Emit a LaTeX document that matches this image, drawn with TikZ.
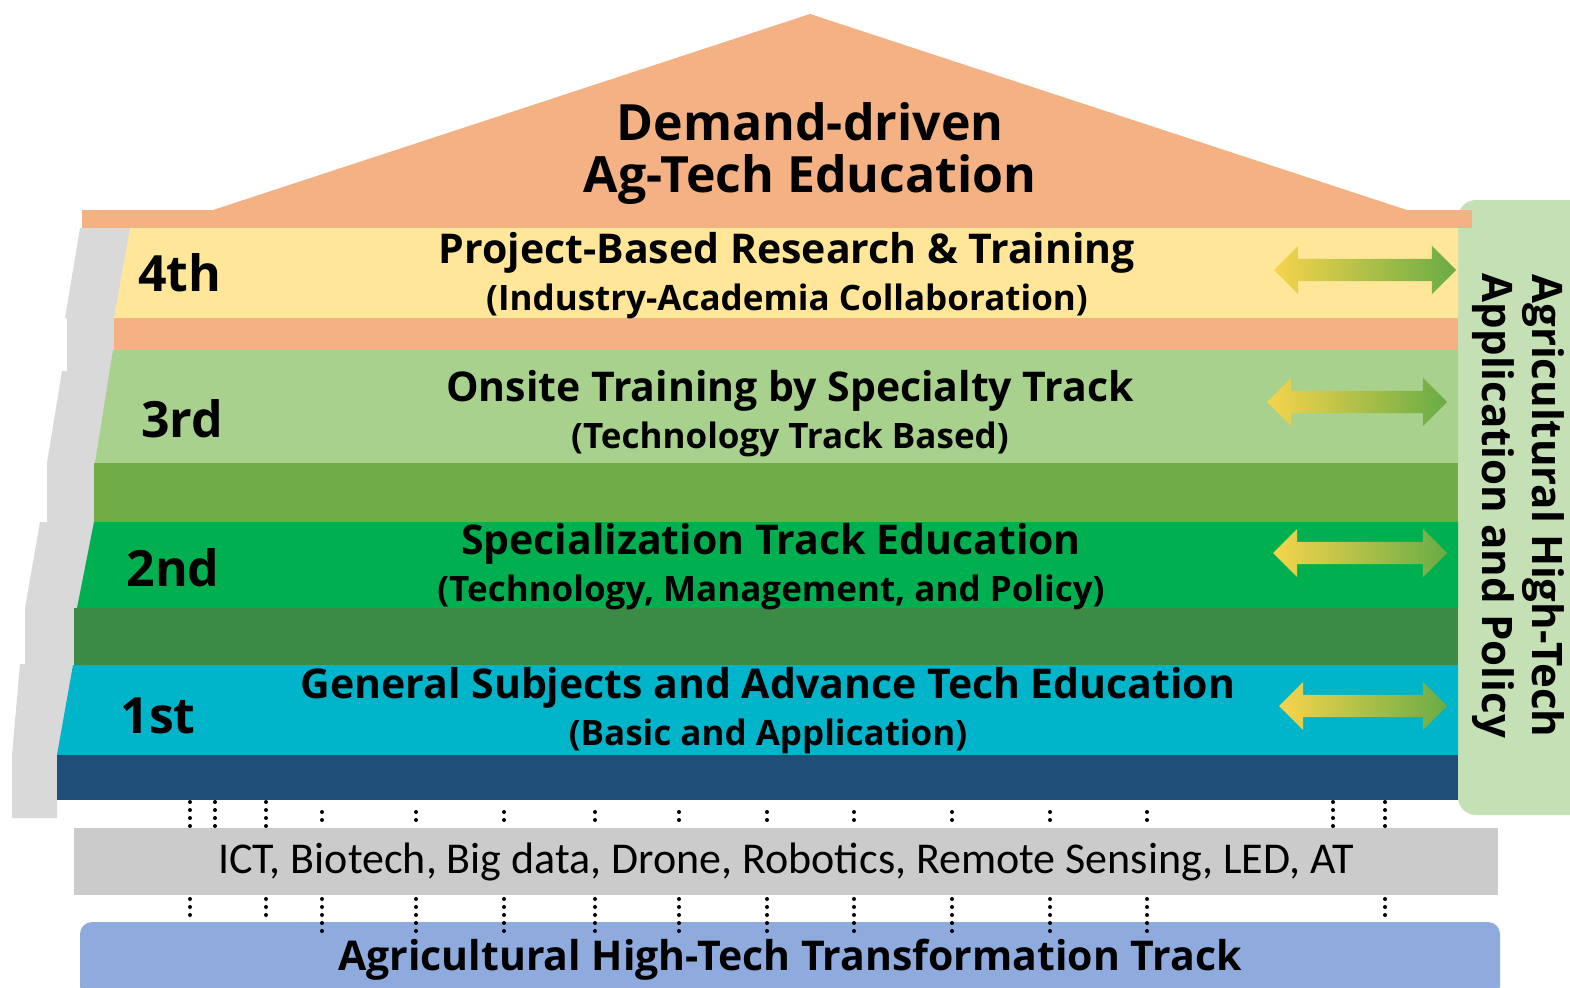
\documentclass[tikz,border=0pt]{standalone}
\usepackage{fontspec}
\setmainfont{Open Sans}
\newfontfamily\techfont{Carlito}
\usetikzlibrary{shapes.arrows}

\definecolor{roofsalmon}{HTML}{F4B183}
\definecolor{lvlfour}{HTML}{FFE699}
\definecolor{lvlthree}{HTML}{A9D18E}
\definecolor{lvlthreebase}{HTML}{70AD47}
\definecolor{lvltwo}{HTML}{00B050}
\definecolor{lvltwobase}{HTML}{3B8A45}
\definecolor{lvlone}{HTML}{00B4CA}
\definecolor{lvlonebase}{HTML}{1F4E79}
\definecolor{stairgrey}{HTML}{D9D9D9}
\definecolor{techgrey}{HTML}{CBCBCB}
\definecolor{sidegreen}{HTML}{C5E0B4}
\definecolor{trackblue}{HTML}{8FAADC}
\definecolor{arrowyellow}{HTML}{F7D44C}
\definecolor{arrowgreen}{HTML}{68AC45}

\tikzset{
  roottext/.style={font=\bfseries\fontsize{50}{52}\selectfont, align=center},
  headtext/.style={font=\bfseries\fontsize{41}{44}\selectfont},
  subtext/.style={font=\bfseries\fontsize{35}{38}\selectfont},
  lvltext/.style={font=\bfseries\fontsize{50}{54}\selectfont},
  linkarrow/.style={double arrow, double arrow head extend=13pt,
    double arrow tip angle=90, inner xsep=0pt, inner ysep=11pt,
    text height=0pt, text depth=0pt,
    left color=arrowyellow, right color=arrowgreen},
  dots/.style={line width=4pt, line cap=round, dash pattern=on 0pt off 8pt}
}

\begin{document}
\begin{tikzpicture}[x=1pt,y=-1pt]
\useasboundingbox (0,0) rectangle (1570,987);
\clip (0,0) rectangle (1570,987);

% side box and stairs
\fill[sidegreen, rounded corners=18pt] (1620,815) -- (1458,815) -- (1458,200) -- (1620,200) -- cycle;
\fill[stairgrey] (80,228) -- (200,228) -- (200,755) -- (57,755) -- (57,818) -- (12,818) -- (12,755)
  -- (20,664) -- (25,664) -- (25,608) -- (40,522) -- (47,522) -- (47,463) -- (62,371)
  -- (67,371) -- (67,318) -- (65,318) -- cycle;

% roof
\fill[roofsalmon] (210,211) -- (810,14) -- (1410,211) -- cycle;
\fill[roofsalmon] (82,210) rectangle (1472,228);

% levels
\fill[lvlfour] (130,228) -- (1458,228) -- (1458,318) -- (114,318) -- cycle;
\fill[roofsalmon] (114,318) rectangle (1458,350);
\fill[lvlthree] (113,350) -- (1458,350) -- (1458,463) -- (95,463) -- cycle;
\fill[lvlthreebase] (94,463) rectangle (1458,522);
\fill[lvltwo] (94,522) -- (1458,522) -- (1458,608) -- (77,608) -- cycle;
\fill[lvltwobase] (74,608) rectangle (1458,665);
\fill[lvlone] (73,665) -- (1458,665) -- (1458,755) -- (57,755) -- cycle;
\fill[lvlonebase] (57,755) rectangle (1458,800);

\node[roottext] (roof) at (810,154) {Demand-driven\\Ag-Tech Education};

\node[lvltext] (l4) at (180,273) {4th};
\node[lvltext] (l3) at (182,419) {3rd};
\node[lvltext] (l2) at (173,568) {2nd};
\node[lvltext] (l1) at (158,716) {1st};

\node[headtext] (h4) at (787,253) {Project-Based Research \& Training};
\node[subtext] (s4) at (787,301) {(Industry-Academia Collaboration)};
\node[headtext] (h3) at (790,391) {Onsite Training by Specialty Track};
\node[subtext] (s3) at (790,439) {(Technology Track Based)};
\node[headtext] (h2) at (771,544) {Specialization Track Education};
\node[subtext] (s2) at (771,592) {(Technology, Management, and Policy)};
\node[headtext] (h1) at (768,688) {General Subjects and Advance Tech Education};
\node[subtext] (s1) at (768,736) {(Basic and Application)};

\node[linkarrow, minimum height=182pt] (a4) at (1365,270) {};
\node[linkarrow, minimum height=180pt] (a3) at (1357,402) {};
\node[linkarrow, minimum height=174pt] (a2) at (1360,553) {};
\node[linkarrow, minimum height=168pt] (a1) at (1363,706) {};

\node[rotate=-90, align=center, font=\bfseries\fontsize{42}{50}\selectfont] (side) at (1518,506)
  {Agricultural High-Tech\\Application and Policy};

% base tracks
\node[fill=techgrey, minimum width=1424pt, minimum height=67pt, inner sep=0pt,
  font=\techfont\fontsize{44}{46}\selectfont] (tech) at (786,861.5)
  {ICT, Biotech, Big data, Drone, Robotics, Remote Sensing, LED, AT};
\node[fill=trackblue, rounded corners=12pt, minimum width=1420pt, minimum height=76pt,
  inner sep=0pt, font=\bfseries\fontsize{41}{44}\selectfont] (track) at (790,960)
  {Agricultural High-Tech Transformation Track};

\foreach \x in {190,215,266,1333,1385}
  \draw[dots] (\x,802) -- (\x,0 |- tech.north);
\foreach \x in {322,416,504,595,679,767,854,952,1050,1147}
  \draw[dots] (\x,812) -- (\x,0 |- tech.north);
\foreach \x in {190,266,1385}
  \draw[dots] (\x,899) -- (\x,920);
\foreach \x in {322,416,504,595,679,767,854,952,1050,1147}
  \draw[dots] (\x,899) -- (\x,931);

\end{tikzpicture}
\end{document}
